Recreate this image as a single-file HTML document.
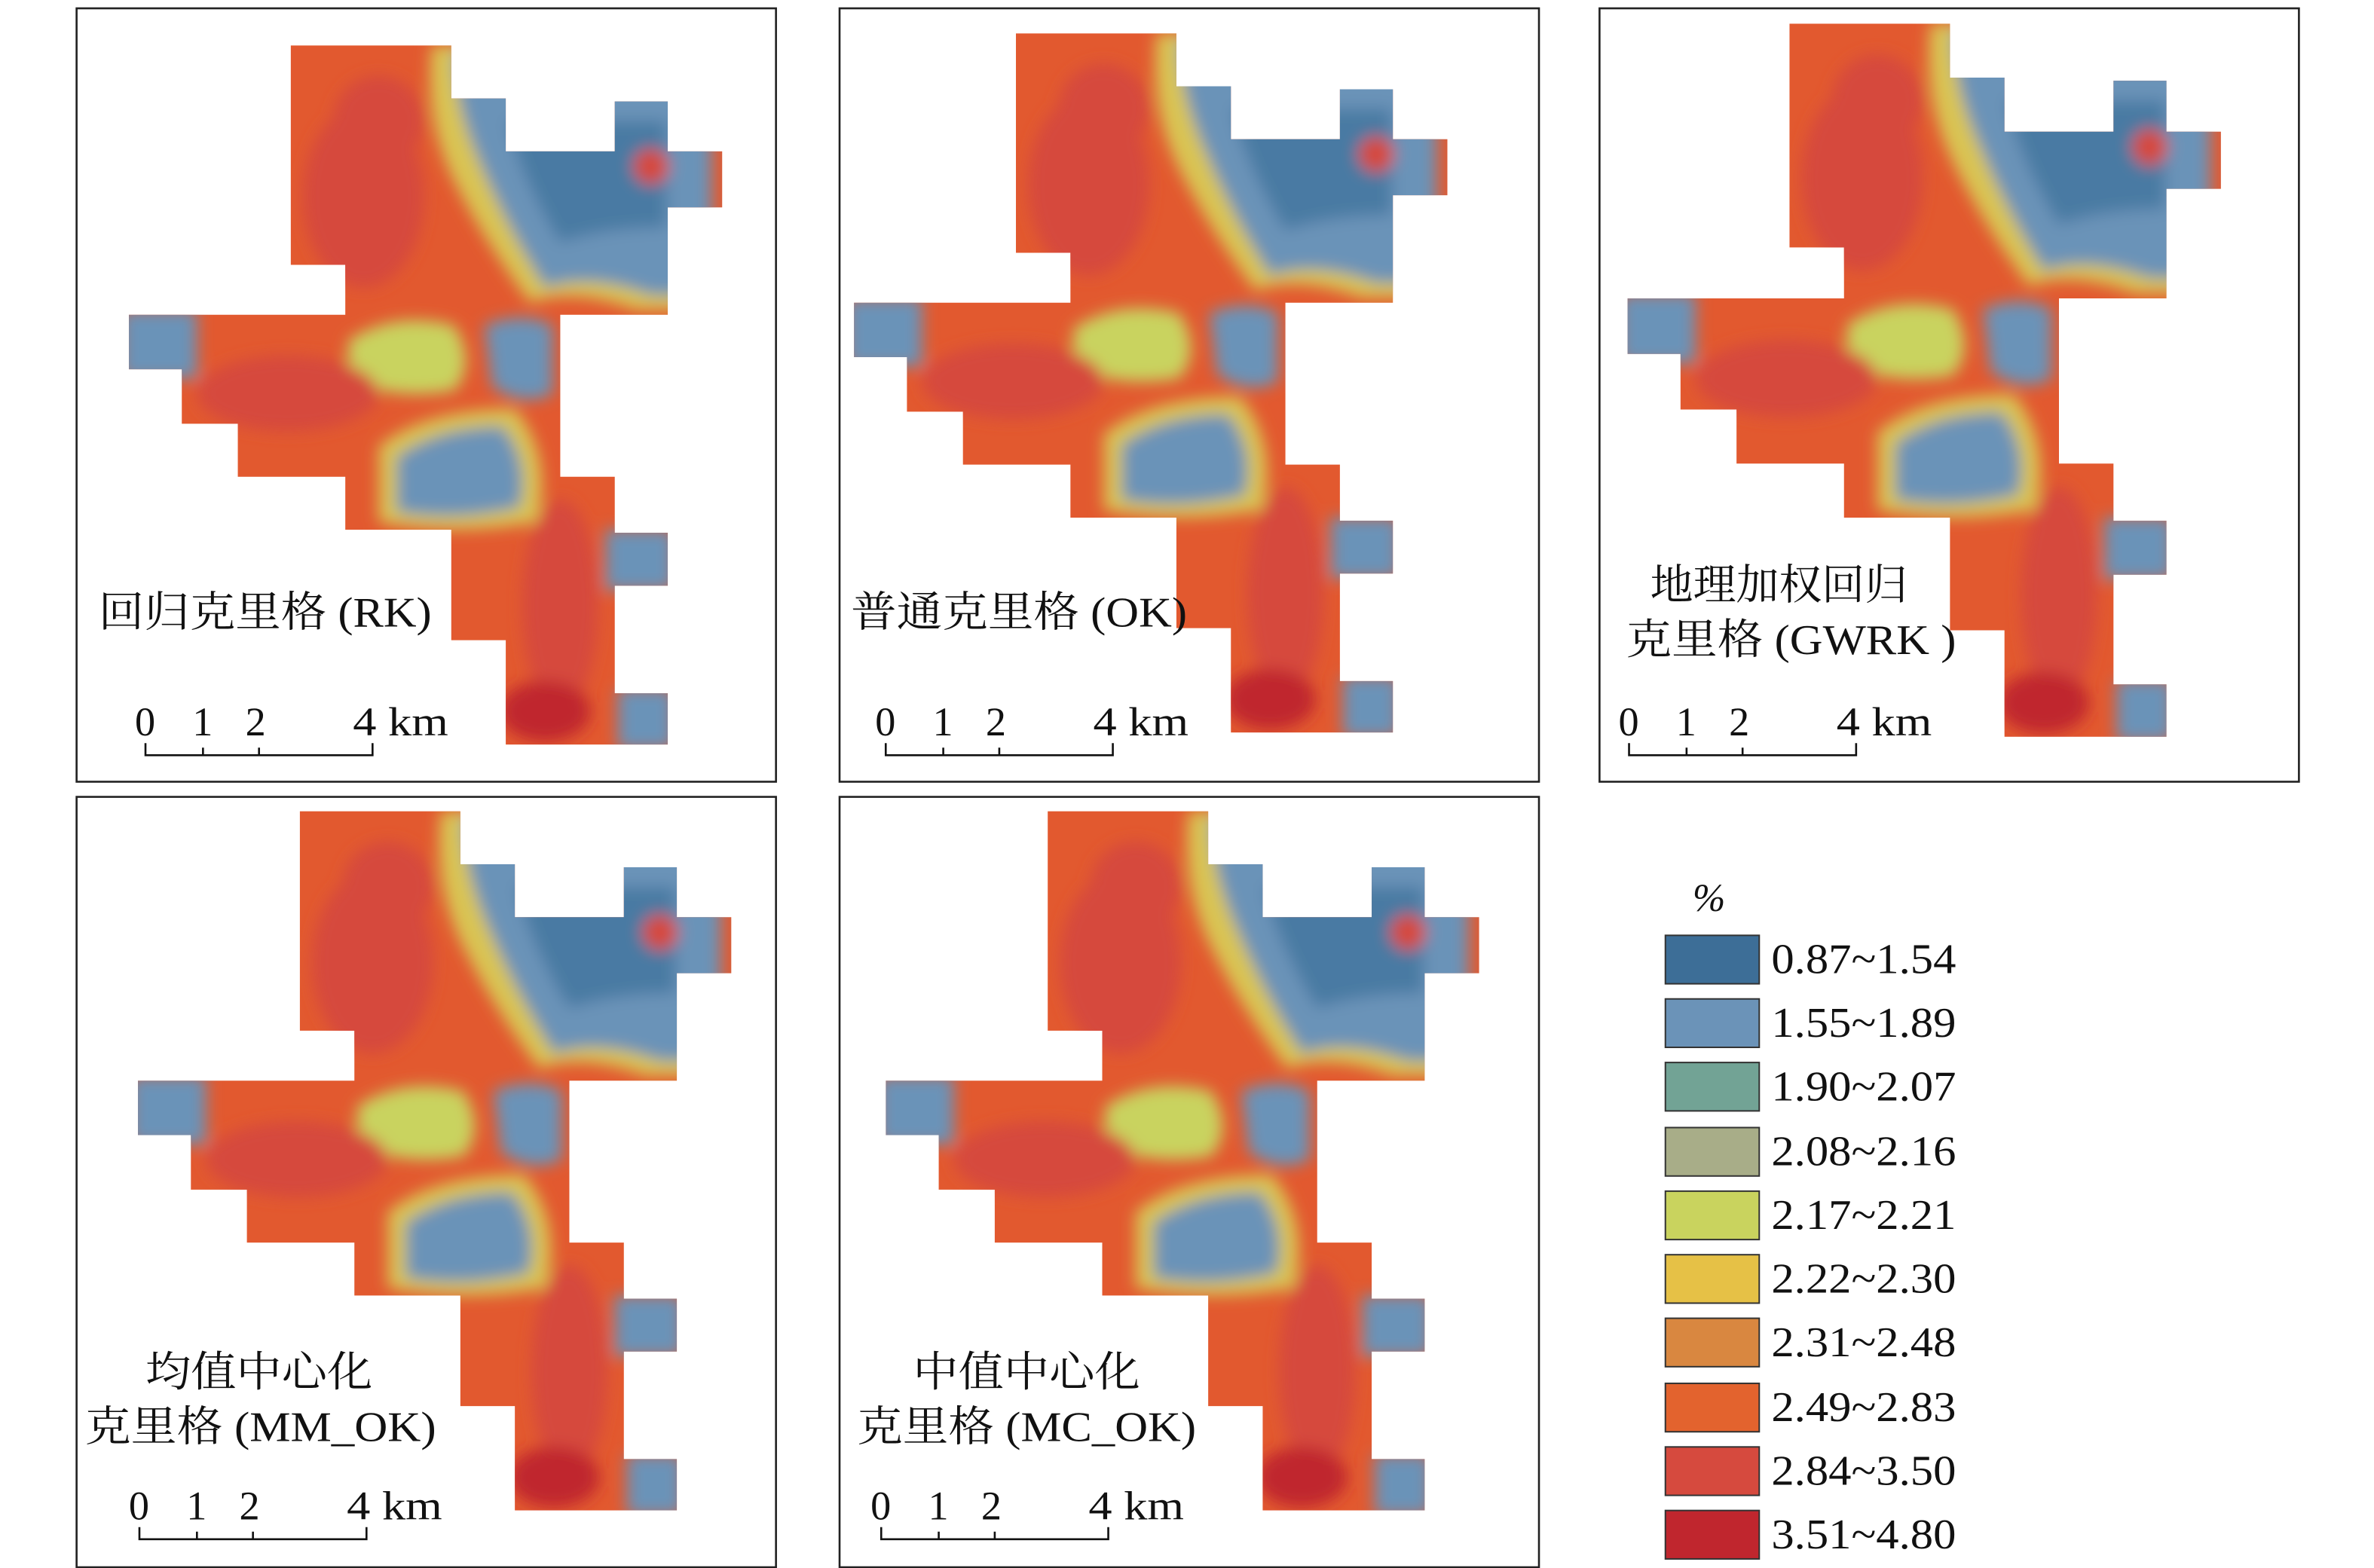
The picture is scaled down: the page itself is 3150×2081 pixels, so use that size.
<!DOCTYPE html>
<html><head><meta charset="utf-8"><style>html,body{margin:0;padding:0;background:#fff}svg{display:block}</style></head>
<body>
<svg width="3150" height="2081" viewBox="0 0 1568 1036" xmlns="http://www.w3.org/2000/svg" font-family="'Liberation Serif','Noto Serif CJK SC',serif">
<defs>
<clipPath id="cp"><path d="M192,30H298V65H334V100H406V67H441V100H477V137H441V208H370V315H406V352H441V387H406V458H441V492H334V423H298V350H228V315H157V280H120V244H85V208H192V208H228V175H192Z"/></clipPath>
<filter id="bl" x="-20%" y="-20%" width="140%" height="140%"><feGaussianBlur stdDeviation="5"/></filter>
<g id="map">
<g clip-path="url(#cp)">
<rect x="80" y="25" width="400" height="470" fill="#e2592f"/>
<g filter="url(#bl)">
<path d="M285,30H470V205H420Q380,190 350,200Q320,160 300,120Q280,80 285,30Z" fill="#d9c453"/>
<path d="M300,35H470V195H430Q390,180 360,190Q335,150 318,110Q300,70 300,35Z" fill="#6b93b8"/>
<path d="M335,80H440V150Q400,150 370,160Q345,120 335,80Z" fill="#4a7aa3"/>
<path d="M250,295Q280,270 340,270Q365,300 355,345Q300,355 250,345Z" fill="#d9c453"/>
<path d="M262,302Q290,282 332,282Q350,305 343,335Q300,345 262,338Z" fill="#6b93b8"/>
<path d="M320,215Q345,205 365,215V260Q345,270 325,255Z" fill="#6b93b8"/>
<path d="M80,205H130V250H80Z" fill="#6b93b8"/>
<path d="M400,350H445V390H400ZM408,455H445V495H408Z" fill="#6b93b8"/>
<path d="M230,225Q260,205 300,215Q315,240 300,258Q260,265 230,250Z" fill="#c9d35e"/>
<ellipse cx="240" cy="130" rx="40" ry="60" fill="#d64a3e"/>
<ellipse cx="190" cy="260" rx="60" ry="25" fill="#d64a3e"/>
<ellipse cx="370" cy="400" rx="25" ry="70" fill="#d64a3e"/>
<ellipse cx="250" cy="80" rx="30" ry="30" fill="#d64a3e"/>
<ellipse cx="360" cy="470" rx="30" ry="20" fill="#c0262e"/>
<ellipse cx="430" cy="110" rx="12" ry="12" fill="#d64a3e"/>
</g>
</g>
</g>
</defs>
<rect width="1568" height="1036" fill="#fff"/>
<g fill="none" stroke="#222" stroke-width="1.3">
<rect x="50.5" y="5.5" width="462" height="511"/>
<rect x="554.5" y="5.5" width="462" height="511"/>
<rect x="1056.5" y="5.5" width="462" height="511"/>
<rect x="50.5" y="526.5" width="462" height="509"/>
<rect x="554.5" y="526.5" width="462" height="509"/>
</g>
<use href="#map"/>
<use href="#map" transform="translate(479,-8)"/>
<use href="#map" transform="translate(990,-15) scale(1,1.02)"/>
<use href="#map" transform="translate(6,506)"/>
<use href="#map" transform="translate(500,506)"/>
<g font-size="28" fill="#111">
<text x="65" y="414" textLength="220" lengthAdjust="spacingAndGlyphs">回归克里格 (RK)</text>
<text x="562" y="414" textLength="222" lengthAdjust="spacingAndGlyphs">普通克里格 (OK)</text>
<text x="1090" y="396" textLength="170" lengthAdjust="spacingAndGlyphs">地理加权回归</text>
<text x="1074" y="432" textLength="218" lengthAdjust="spacingAndGlyphs">克里格 (GWRK )</text>
<text x="96" y="916" textLength="150" lengthAdjust="spacingAndGlyphs">均值中心化</text>
<text x="56" y="952" textLength="232" lengthAdjust="spacingAndGlyphs">克里格 (MM_OK)</text>
<text x="603" y="916" textLength="150" lengthAdjust="spacingAndGlyphs">中值中心化</text>
<text x="566" y="952" textLength="224" lengthAdjust="spacingAndGlyphs">克里格 (MC_OK)</text>
</g>
<g id="sb" font-size="27" fill="#111">
<text x="89" y="486">0</text><text x="127" y="486">1</text><text x="162" y="486">2</text><text x="233" y="486" textLength="63" lengthAdjust="spacingAndGlyphs">4 km</text>
<path d="M96,491V499H246V491M134,494V499M171,494V499" fill="none" stroke="#111" stroke-width="1.3"/>
</g>
<use href="#sb" transform="translate(489,0)"/>
<use href="#sb" transform="translate(980,0)"/>
<use href="#sb" transform="translate(-4,518)"/>
<use href="#sb" transform="translate(486,518)"/>
<text x="1118" y="602" font-size="26" font-style="italic" fill="#111">%</text>
<g stroke="#333" stroke-width="1">
<rect x="1100" y="618" width="62" height="32" fill="#3d6e97"/>
<rect x="1100" y="660" width="62" height="32" fill="#6b93b8"/>
<rect x="1100" y="702" width="62" height="32" fill="#72a395"/>
<rect x="1100" y="745" width="62" height="32" fill="#a8ad88"/>
<rect x="1100" y="787" width="62" height="32" fill="#c9d35e"/>
<rect x="1100" y="829" width="62" height="32" fill="#e6c146"/>
<rect x="1100" y="871" width="62" height="32" fill="#d98740"/>
<rect x="1100" y="914" width="62" height="32" fill="#e3632e"/>
<rect x="1100" y="956" width="62" height="32" fill="#d64a3e"/>
<rect x="1100" y="998" width="62" height="32" fill="#c0262e"/>
</g>
<g font-size="28" fill="#111">
<text x="1170" y="643" textLength="122" lengthAdjust="spacingAndGlyphs">0.87~1.54</text>
<text x="1170" y="685" textLength="122" lengthAdjust="spacingAndGlyphs">1.55~1.89</text>
<text x="1170" y="727" textLength="122" lengthAdjust="spacingAndGlyphs">1.90~2.07</text>
<text x="1170" y="770" textLength="122" lengthAdjust="spacingAndGlyphs">2.08~2.16</text>
<text x="1170" y="812" textLength="122" lengthAdjust="spacingAndGlyphs">2.17~2.21</text>
<text x="1170" y="854" textLength="122" lengthAdjust="spacingAndGlyphs">2.22~2.30</text>
<text x="1170" y="896" textLength="122" lengthAdjust="spacingAndGlyphs">2.31~2.48</text>
<text x="1170" y="939" textLength="122" lengthAdjust="spacingAndGlyphs">2.49~2.83</text>
<text x="1170" y="981" textLength="122" lengthAdjust="spacingAndGlyphs">2.84~3.50</text>
<text x="1170" y="1023" textLength="122" lengthAdjust="spacingAndGlyphs">3.51~4.80</text>
</g>
</svg>
</body></html>
